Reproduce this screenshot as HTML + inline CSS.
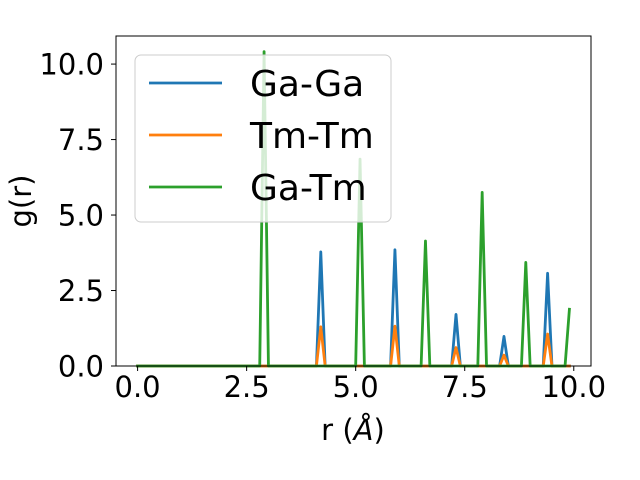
<!DOCTYPE html>
<html><head><meta charset="utf-8"><style>
html,body{margin:0;padding:0;background:#fff;}
svg{display:block;font-family:"DejaVu Sans","Liberation Sans",sans-serif;}
</style></head><body>
<svg id="chart" width="640" height="480" viewBox="0 0 640 480" xmlns="http://www.w3.org/2000/svg">
<rect x="0" y="0" width="640" height="480" fill="#fff"/>
<g id="plot"></g>
<g id="axes"></g>
<g id="legend"></g>
</svg>
<script>
const peakR = [2.9, 4.2, 5.1, 5.9, 6.6, 7.3, 7.9, 8.4, 8.9, 9.4, 9.9];
const gaGa = [0, 3.78, 0, 3.85, 0, 1.71, 0, 0.98, 0, 3.07, 0];
const tmTm = [0, 1.30, 0, 1.32, 0, 0.61, 0, 0.36, 0, 1.06, 0];
const gaTm = [10.41, 0, 6.85, 0, 4.14, 0, 5.75, 0, 3.43, 0, 1.88];
const xTicks = [0, 2.5, 5, 7.5, 10];
const xTickLabels = ["0.0", "2.5", "5.0", "7.5", "10.0"];
const yTicks = [0, 2.5, 5, 7.5, 10];
const yTickLabels = ["0.0", "2.5", "5.0", "7.5", "10.0"];
const seriesNames = ["Ga-Ga", "Tm-Tm", "Ga-Tm"];
const seriesColors = ["#1f77b4", "#ff7f0e", "#2ca02c"];

const NS = "http://www.w3.org/2000/svg";
const L = 116, R = 591, T = 36, B = 366;
const xMin = -0.495, xMax = 10.395, yMin = 0, yMax = 10.93;
function sx(v){ return L + (v - xMin) / (xMax - xMin) * (R - L); }
function sy(v){ return B - (v - yMin) / (yMax - yMin) * (B - T); }
function mk(tag, attrs, parent){
  const e = document.createElementNS(NS, tag);
  for (const k in attrs) e.setAttribute(k, attrs[k]);
  parent.appendChild(e); return e;
}
function buildSeries(vals){
  const pts = [];
  for (let i = 0; i < 100; i++){
    const r = i / 10;
    let v = 0;
    for (let j = 0; j < peakR.length; j++) if (Math.abs(peakR[j] - r) < 1e-6) v = vals[j];
    pts.push([r, v]);
  }
  return pts;
}
const plot = document.getElementById("plot");
[gaGa, tmTm, gaTm].forEach((vals, si) => {
  const pts = buildSeries(vals);
  const p = mk("polyline", {points: pts.map(p => sx(p[0]).toFixed(2) + "," + sy(p[1]).toFixed(2)).join(" "),
    fill: "none", stroke: seriesColors[si], "stroke-width": 2.8, "stroke-linejoin": "round", "stroke-linecap": "square"}, plot);
  
  
});
const axes = document.getElementById("axes");
const frame = mk("rect", {x: L, y: T, width: R - L, height: B - T, fill: "none", stroke: "#000", "stroke-width": 1}, axes);


xTicks.forEach((v, i) => {
  const x = sx(v);
  const t = mk("line", {x1: x, y1: B, x2: x, y2: B + 5, stroke: "#000", "stroke-width": 1}, axes);
  
  
  const lb = mk("text", {x: x, y: 397, "text-anchor": "middle", "font-size": 29, fill: "#000"}, axes);
  lb.textContent = xTickLabels[i];
  
  
});
yTicks.forEach((v, i) => {
  const y = sy(v);
  const t = mk("line", {x1: L - 5, y1: y, x2: L, y2: y, stroke: "#000", "stroke-width": 1}, axes);
  
  
  const lb = mk("text", {x: 104, y: y + 10.5, "text-anchor": "end", "font-size": 29, fill: "#000"}, axes);
  lb.textContent = yTickLabels[i];
  
  
});
const xl = mk("text", {x: 353, y: 440, "text-anchor": "middle", "font-size": 29, fill: "#000"}, axes);
xl.innerHTML = 'r (<tspan font-style="italic">Å</tspan>)';


const yl = mk("text", {x: 0, y: 0, "text-anchor": "middle", "font-size": 29, fill: "#000", transform: "translate(31,201) rotate(-90)"}, axes);
yl.textContent = "g(r)";


const lg = document.getElementById("legend");
const box = mk("rect", {x: 135, y: 55, width: 256, height: 167, rx: 6, fill: "#fff", "fill-opacity": 0.8, stroke: "#ccc", "stroke-width": 1}, lg);


seriesNames.forEach((n, i) => {
  const y = 83 + i * 52;
  const ln = mk("line", {x1: 149, y1: y, x2: 222, y2: y, stroke: seriesColors[i], "stroke-width": 2.8}, lg);
  
  
  const tx = mk("text", {x: 250, y: y + 13, "font-size": 36, fill: "#000"}, lg);
  tx.textContent = n;
  
  
});
</script>
</body></html>
